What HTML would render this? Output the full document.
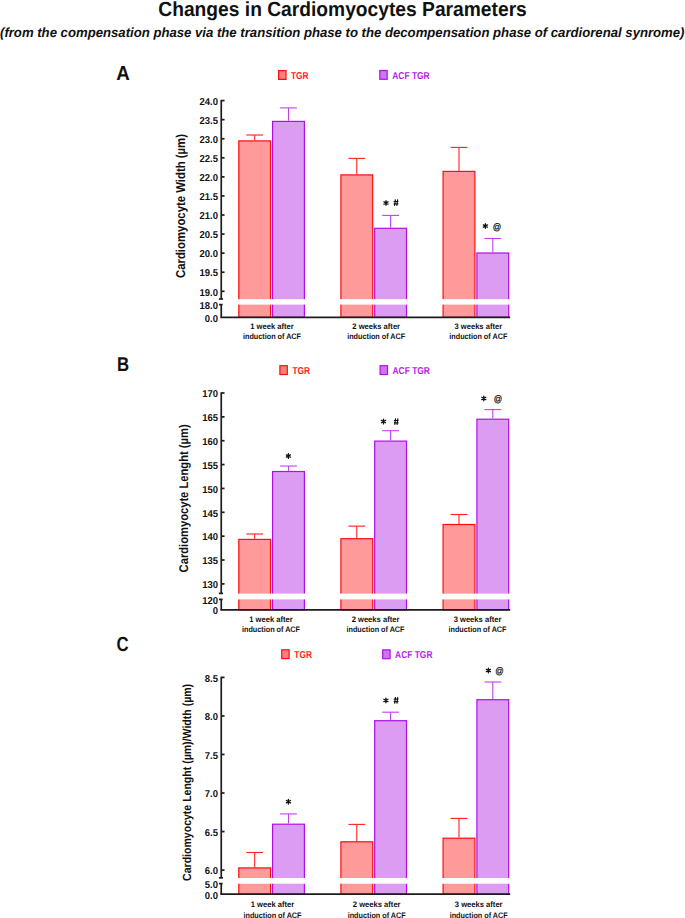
<!DOCTYPE html>
<html><head><meta charset="utf-8"><style>
html,body{margin:0;padding:0;background:#fff;}
body{width:685px;height:918px;overflow:hidden;}
svg{display:block;text-rendering:geometricPrecision;font-family:"Liberation Sans", sans-serif;}
</style></head><body>
<svg width="685" height="918" viewBox="0 0 685 918">
<rect x="0" y="0" width="685" height="918" fill="#fff"/>
<text x="158.3" y="15.6" font-size="20.5" font-weight="bold" font-style="normal" fill="#111" text-anchor="start" textLength="368.5" lengthAdjust="spacingAndGlyphs">Changes in Cardiomyocytes Parameters</text>
<text x="0.0" y="37.0" font-size="13.4" font-weight="bold" font-style="italic" fill="#111" text-anchor="start" textLength="684.5" lengthAdjust="spacingAndGlyphs">(from the compensation phase via the transition phase to the decompensation phase of cardiorenal synrome)</text>
<text transform="translate(116.3,79.6) scale(0.93,1)" x="0" y="0" font-size="20.2" font-weight="bold" font-style="normal" fill="#111" text-anchor="start">A</text>
<rect x="278.60" y="70.60" width="7.4" height="8.8" fill="#ff7f7f" stroke="#ff0d0d" stroke-width="1.2"/>
<rect x="379.80" y="70.50" width="7.4" height="8.8" fill="#cf74f2" stroke="#b010e6" stroke-width="1.2"/>
<text x="291.0" y="78.7" font-size="10.0" font-weight="bold" font-style="normal" fill="#ff1a1a" text-anchor="start" textLength="17.6" lengthAdjust="spacingAndGlyphs">TGR</text>
<text x="392.3" y="78.6" font-size="10.0" font-weight="bold" font-style="normal" fill="#b31ee6" text-anchor="start" textLength="37.4" lengthAdjust="spacingAndGlyphs">ACF TGR</text>
<rect x="238.80" y="140.90" width="31.80" height="176.40" fill="#ff9a9a" stroke="#ff0d0d" stroke-width="1.2"/>
<rect x="272.60" y="121.40" width="31.80" height="195.90" fill="#dc9cf2" stroke="#b010e6" stroke-width="1.2"/>
<line x1="254.7" y1="135.0" x2="254.7" y2="140.3" stroke="#ff2020" stroke-width="1.1"/>
<line x1="246.3" y1="135.0" x2="263.1" y2="135.0" stroke="#ff2020" stroke-width="1.1"/>
<line x1="288.5" y1="107.9" x2="288.5" y2="120.8" stroke="#c040ee" stroke-width="1.1"/>
<line x1="280.1" y1="107.9" x2="296.9" y2="107.9" stroke="#c040ee" stroke-width="1.1"/>
<rect x="340.90" y="174.90" width="31.80" height="142.40" fill="#ff9a9a" stroke="#ff0d0d" stroke-width="1.2"/>
<rect x="374.70" y="228.30" width="31.80" height="89.00" fill="#dc9cf2" stroke="#b010e6" stroke-width="1.2"/>
<line x1="356.8" y1="158.4" x2="356.8" y2="174.3" stroke="#ff2020" stroke-width="1.1"/>
<line x1="348.4" y1="158.4" x2="365.2" y2="158.4" stroke="#ff2020" stroke-width="1.1"/>
<line x1="390.6" y1="215.4" x2="390.6" y2="227.7" stroke="#c040ee" stroke-width="1.1"/>
<line x1="382.2" y1="215.4" x2="399.0" y2="215.4" stroke="#c040ee" stroke-width="1.1"/>
<rect x="443.10" y="171.40" width="31.80" height="145.90" fill="#ff9a9a" stroke="#ff0d0d" stroke-width="1.2"/>
<rect x="476.90" y="253.00" width="31.80" height="64.30" fill="#dc9cf2" stroke="#b010e6" stroke-width="1.2"/>
<line x1="459.0" y1="147.4" x2="459.0" y2="170.8" stroke="#ff2020" stroke-width="1.1"/>
<line x1="450.6" y1="147.4" x2="467.4" y2="147.4" stroke="#ff2020" stroke-width="1.1"/>
<line x1="492.8" y1="238.5" x2="492.8" y2="252.4" stroke="#c040ee" stroke-width="1.1"/>
<line x1="484.4" y1="238.5" x2="501.2" y2="238.5" stroke="#c040ee" stroke-width="1.1"/>
<rect x="224.25" y="299.2" width="287.75" height="5.40" fill="#fff"/>
<line x1="221.25" y1="99.89999999999999" x2="221.25" y2="299.0" stroke="#1c1c1c" stroke-width="1.7"/>
<line x1="218.85" y1="299.0" x2="223.05" y2="299.0" stroke="#1c1c1c" stroke-width="1.7"/>
<line x1="221.25" y1="304.6" x2="221.25" y2="317.3" stroke="#1c1c1c" stroke-width="1.7"/>
<line x1="219.05" y1="304.6" x2="222.65" y2="304.6" stroke="#1c1c1c" stroke-width="1.7"/>
<line x1="220.4" y1="317.3" x2="510.2" y2="317.3" stroke="#1c1c1c" stroke-width="1.7"/>
<line x1="221.25" y1="100.60" x2="224.55" y2="100.60" stroke="#1c1c1c" stroke-width="1.7"/>
<text transform="translate(218.0,104.80) scale(0.95,1)" x="0" y="0" font-size="10.0" font-weight="bold" font-style="normal" fill="#111" text-anchor="end">24.0</text>
<line x1="221.25" y1="119.67" x2="224.55" y2="119.67" stroke="#1c1c1c" stroke-width="1.7"/>
<text transform="translate(218.0,123.87) scale(0.95,1)" x="0" y="0" font-size="10.0" font-weight="bold" font-style="normal" fill="#111" text-anchor="end">23.5</text>
<line x1="221.25" y1="138.74" x2="224.55" y2="138.74" stroke="#1c1c1c" stroke-width="1.7"/>
<text transform="translate(218.0,142.94) scale(0.95,1)" x="0" y="0" font-size="10.0" font-weight="bold" font-style="normal" fill="#111" text-anchor="end">23.0</text>
<line x1="221.25" y1="157.81" x2="224.55" y2="157.81" stroke="#1c1c1c" stroke-width="1.7"/>
<text transform="translate(218.0,162.01) scale(0.95,1)" x="0" y="0" font-size="10.0" font-weight="bold" font-style="normal" fill="#111" text-anchor="end">22.5</text>
<line x1="221.25" y1="176.88" x2="224.55" y2="176.88" stroke="#1c1c1c" stroke-width="1.7"/>
<text transform="translate(218.0,181.08) scale(0.95,1)" x="0" y="0" font-size="10.0" font-weight="bold" font-style="normal" fill="#111" text-anchor="end">22.0</text>
<line x1="221.25" y1="195.95" x2="224.55" y2="195.95" stroke="#1c1c1c" stroke-width="1.7"/>
<text transform="translate(218.0,200.15) scale(0.95,1)" x="0" y="0" font-size="10.0" font-weight="bold" font-style="normal" fill="#111" text-anchor="end">21.5</text>
<line x1="221.25" y1="215.02" x2="224.55" y2="215.02" stroke="#1c1c1c" stroke-width="1.7"/>
<text transform="translate(218.0,219.22) scale(0.95,1)" x="0" y="0" font-size="10.0" font-weight="bold" font-style="normal" fill="#111" text-anchor="end">21.0</text>
<line x1="221.25" y1="234.09" x2="224.55" y2="234.09" stroke="#1c1c1c" stroke-width="1.7"/>
<text transform="translate(218.0,238.29) scale(0.95,1)" x="0" y="0" font-size="10.0" font-weight="bold" font-style="normal" fill="#111" text-anchor="end">20.5</text>
<line x1="221.25" y1="253.16" x2="224.55" y2="253.16" stroke="#1c1c1c" stroke-width="1.7"/>
<text transform="translate(218.0,257.36) scale(0.95,1)" x="0" y="0" font-size="10.0" font-weight="bold" font-style="normal" fill="#111" text-anchor="end">20.0</text>
<line x1="221.25" y1="272.23" x2="224.55" y2="272.23" stroke="#1c1c1c" stroke-width="1.7"/>
<text transform="translate(218.0,276.43) scale(0.95,1)" x="0" y="0" font-size="10.0" font-weight="bold" font-style="normal" fill="#111" text-anchor="end">19.5</text>
<line x1="221.25" y1="291.30" x2="224.55" y2="291.30" stroke="#1c1c1c" stroke-width="1.7"/>
<text transform="translate(218.0,295.50) scale(0.95,1)" x="0" y="0" font-size="10.0" font-weight="bold" font-style="normal" fill="#111" text-anchor="end">19.0</text>
<text transform="translate(218.0,308.80) scale(0.95,1)" x="0" y="0" font-size="10.0" font-weight="bold" font-style="normal" fill="#111" text-anchor="end">18.0</text>
<text transform="translate(218.0,321.50) scale(0.95,1)" x="0" y="0" font-size="10.0" font-weight="bold" font-style="normal" fill="#111" text-anchor="end">0.0</text>
<path d="M386.00,200.65L386.00,205.35M383.96,201.82L388.04,204.18M383.96,204.18L388.04,201.82" stroke="#111" stroke-width="1.3" stroke-linecap="round" fill="none"/>
<path d="M395.40,199.30L394.50,205.90M397.70,199.30L396.80,205.90M393.65,201.45L398.35,201.45M393.65,203.85L398.35,203.85" stroke="#111" stroke-width="1.15" fill="none"/>
<path d="M485.40,223.65L485.40,228.35M483.36,224.82L487.44,227.18M483.36,227.18L487.44,224.82" stroke="#111" stroke-width="1.3" stroke-linecap="round" fill="none"/>
<text transform="translate(496.90,229.60) scale(0.88,1)" x="0" y="0" font-size="9.5" font-weight="normal" font-style="normal" fill="#111" text-anchor="middle" stroke="#111" stroke-width="0.25">@</text>
<text transform="translate(185.0,278.0) rotate(-90)" x="0" y="0" font-size="12.9" font-weight="bold" fill="#111" textLength="144.0" lengthAdjust="spacingAndGlyphs">Cardiomyocyte Width (µm)</text>
<text transform="translate(272.0,328.8) scale(0.95,1)" x="0" y="0" font-size="8.0" font-weight="bold" font-style="normal" fill="#111" text-anchor="middle">1 week after</text>
<text transform="translate(272.0,338.7) scale(0.905,1)" x="0" y="0" font-size="8.0" font-weight="bold" font-style="normal" fill="#111" text-anchor="middle">induction of ACF</text>
<text transform="translate(376.2,328.8) scale(0.95,1)" x="0" y="0" font-size="8.0" font-weight="bold" font-style="normal" fill="#111" text-anchor="middle">2 weeks after</text>
<text transform="translate(376.2,338.7) scale(0.905,1)" x="0" y="0" font-size="8.0" font-weight="bold" font-style="normal" fill="#111" text-anchor="middle">induction of ACF</text>
<text transform="translate(478.3,328.8) scale(0.95,1)" x="0" y="0" font-size="8.0" font-weight="bold" font-style="normal" fill="#111" text-anchor="middle">3 weeks after</text>
<text transform="translate(478.3,338.7) scale(0.905,1)" x="0" y="0" font-size="8.0" font-weight="bold" font-style="normal" fill="#111" text-anchor="middle">induction of ACF</text>
<text transform="translate(117.0,371.0) scale(0.84,1)" x="0" y="0" font-size="20.0" font-weight="bold" font-style="normal" fill="#111" text-anchor="start">B</text>
<rect x="279.90" y="365.70" width="7.4" height="8.8" fill="#ff7f7f" stroke="#ff0d0d" stroke-width="1.2"/>
<rect x="380.10" y="365.70" width="7.4" height="8.8" fill="#cf74f2" stroke="#b010e6" stroke-width="1.2"/>
<text x="292.4" y="373.9" font-size="10.0" font-weight="bold" font-style="normal" fill="#ff1a1a" text-anchor="start" textLength="17.6" lengthAdjust="spacingAndGlyphs">TGR</text>
<text x="392.5" y="373.8" font-size="10.0" font-weight="bold" font-style="normal" fill="#b31ee6" text-anchor="start" textLength="37.4" lengthAdjust="spacingAndGlyphs">ACF TGR</text>
<rect x="238.80" y="539.40" width="31.80" height="70.50" fill="#ff9a9a" stroke="#ff0d0d" stroke-width="1.2"/>
<rect x="272.60" y="471.50" width="31.80" height="138.40" fill="#dc9cf2" stroke="#b010e6" stroke-width="1.2"/>
<line x1="254.7" y1="534.0" x2="254.7" y2="538.8" stroke="#ff2020" stroke-width="1.1"/>
<line x1="246.3" y1="534.0" x2="263.1" y2="534.0" stroke="#ff2020" stroke-width="1.1"/>
<line x1="288.5" y1="466.0" x2="288.5" y2="470.9" stroke="#c040ee" stroke-width="1.1"/>
<line x1="280.1" y1="466.0" x2="296.9" y2="466.0" stroke="#c040ee" stroke-width="1.1"/>
<rect x="340.90" y="538.70" width="31.80" height="71.20" fill="#ff9a9a" stroke="#ff0d0d" stroke-width="1.2"/>
<rect x="374.70" y="441.10" width="31.80" height="168.80" fill="#dc9cf2" stroke="#b010e6" stroke-width="1.2"/>
<line x1="356.8" y1="526.1" x2="356.8" y2="538.1" stroke="#ff2020" stroke-width="1.1"/>
<line x1="348.4" y1="526.1" x2="365.2" y2="526.1" stroke="#ff2020" stroke-width="1.1"/>
<line x1="390.6" y1="430.7" x2="390.6" y2="440.5" stroke="#c040ee" stroke-width="1.1"/>
<line x1="382.2" y1="430.7" x2="399.0" y2="430.7" stroke="#c040ee" stroke-width="1.1"/>
<rect x="443.10" y="524.50" width="31.80" height="85.40" fill="#ff9a9a" stroke="#ff0d0d" stroke-width="1.2"/>
<rect x="476.90" y="419.20" width="31.80" height="190.70" fill="#dc9cf2" stroke="#b010e6" stroke-width="1.2"/>
<line x1="459.0" y1="514.5" x2="459.0" y2="523.9" stroke="#ff2020" stroke-width="1.1"/>
<line x1="450.6" y1="514.5" x2="467.4" y2="514.5" stroke="#ff2020" stroke-width="1.1"/>
<line x1="492.8" y1="409.6" x2="492.8" y2="418.6" stroke="#c040ee" stroke-width="1.1"/>
<line x1="484.4" y1="409.6" x2="501.2" y2="409.6" stroke="#c040ee" stroke-width="1.1"/>
<rect x="224.25" y="593.6" width="287.75" height="5.80" fill="#fff"/>
<line x1="221.25" y1="392.3" x2="221.25" y2="593.4" stroke="#1c1c1c" stroke-width="1.7"/>
<line x1="218.85" y1="593.4" x2="223.05" y2="593.4" stroke="#1c1c1c" stroke-width="1.7"/>
<line x1="221.25" y1="599.4" x2="221.25" y2="609.9" stroke="#1c1c1c" stroke-width="1.7"/>
<line x1="219.05" y1="599.4" x2="222.65" y2="599.4" stroke="#1c1c1c" stroke-width="1.7"/>
<line x1="220.4" y1="609.9" x2="510.2" y2="609.9" stroke="#1c1c1c" stroke-width="1.7"/>
<line x1="221.25" y1="393.00" x2="224.55" y2="393.00" stroke="#1c1c1c" stroke-width="1.7"/>
<text transform="translate(218.0,397.20) scale(0.95,1)" x="0" y="0" font-size="10.0" font-weight="bold" font-style="normal" fill="#111" text-anchor="end">170</text>
<line x1="221.25" y1="416.86" x2="224.55" y2="416.86" stroke="#1c1c1c" stroke-width="1.7"/>
<text transform="translate(218.0,421.06) scale(0.95,1)" x="0" y="0" font-size="10.0" font-weight="bold" font-style="normal" fill="#111" text-anchor="end">165</text>
<line x1="221.25" y1="440.72" x2="224.55" y2="440.72" stroke="#1c1c1c" stroke-width="1.7"/>
<text transform="translate(218.0,444.92) scale(0.95,1)" x="0" y="0" font-size="10.0" font-weight="bold" font-style="normal" fill="#111" text-anchor="end">160</text>
<line x1="221.25" y1="464.58" x2="224.55" y2="464.58" stroke="#1c1c1c" stroke-width="1.7"/>
<text transform="translate(218.0,468.78) scale(0.95,1)" x="0" y="0" font-size="10.0" font-weight="bold" font-style="normal" fill="#111" text-anchor="end">155</text>
<line x1="221.25" y1="488.44" x2="224.55" y2="488.44" stroke="#1c1c1c" stroke-width="1.7"/>
<text transform="translate(218.0,492.64) scale(0.95,1)" x="0" y="0" font-size="10.0" font-weight="bold" font-style="normal" fill="#111" text-anchor="end">150</text>
<line x1="221.25" y1="512.30" x2="224.55" y2="512.30" stroke="#1c1c1c" stroke-width="1.7"/>
<text transform="translate(218.0,516.50) scale(0.95,1)" x="0" y="0" font-size="10.0" font-weight="bold" font-style="normal" fill="#111" text-anchor="end">145</text>
<line x1="221.25" y1="536.16" x2="224.55" y2="536.16" stroke="#1c1c1c" stroke-width="1.7"/>
<text transform="translate(218.0,540.36) scale(0.95,1)" x="0" y="0" font-size="10.0" font-weight="bold" font-style="normal" fill="#111" text-anchor="end">140</text>
<line x1="221.25" y1="560.02" x2="224.55" y2="560.02" stroke="#1c1c1c" stroke-width="1.7"/>
<text transform="translate(218.0,564.22) scale(0.95,1)" x="0" y="0" font-size="10.0" font-weight="bold" font-style="normal" fill="#111" text-anchor="end">135</text>
<line x1="221.25" y1="583.88" x2="224.55" y2="583.88" stroke="#1c1c1c" stroke-width="1.7"/>
<text transform="translate(218.0,588.08) scale(0.95,1)" x="0" y="0" font-size="10.0" font-weight="bold" font-style="normal" fill="#111" text-anchor="end">130</text>
<text transform="translate(218.0,603.80) scale(0.95,1)" x="0" y="0" font-size="10.0" font-weight="bold" font-style="normal" fill="#111" text-anchor="end">120</text>
<text transform="translate(218.0,614.40) scale(0.95,1)" x="0" y="0" font-size="10.0" font-weight="bold" font-style="normal" fill="#111" text-anchor="end">0</text>
<path d="M288.40,453.65L288.40,458.35M286.36,454.82L290.44,457.18M286.36,457.18L290.44,454.82" stroke="#111" stroke-width="1.3" stroke-linecap="round" fill="none"/>
<path d="M383.50,419.25L383.50,423.95M381.46,420.43L385.54,422.78M381.46,422.78L385.54,420.43" stroke="#111" stroke-width="1.3" stroke-linecap="round" fill="none"/>
<path d="M395.60,418.30L394.70,424.90M397.90,418.30L397.00,424.90M393.85,420.45L398.55,420.45M393.85,422.85L398.55,422.85" stroke="#111" stroke-width="1.15" fill="none"/>
<path d="M483.80,396.05L483.80,400.75M481.76,397.22L485.84,399.57M481.76,399.57L485.84,397.22" stroke="#111" stroke-width="1.3" stroke-linecap="round" fill="none"/>
<text transform="translate(497.90,402.20) scale(0.88,1)" x="0" y="0" font-size="9.5" font-weight="normal" font-style="normal" fill="#111" text-anchor="middle" stroke="#111" stroke-width="0.25">@</text>
<text transform="translate(187.6,572.4) rotate(-90)" x="0" y="0" font-size="12.6" font-weight="bold" fill="#111" textLength="148.0" lengthAdjust="spacingAndGlyphs">Cardiomyocyte Lenght (µm)</text>
<text transform="translate(271.0,621.9) scale(0.95,1)" x="0" y="0" font-size="8.0" font-weight="bold" font-style="normal" fill="#111" text-anchor="middle">1 week after</text>
<text transform="translate(271.0,632.0) scale(0.905,1)" x="0" y="0" font-size="8.0" font-weight="bold" font-style="normal" fill="#111" text-anchor="middle">induction of ACF</text>
<text transform="translate(375.5,621.9) scale(0.95,1)" x="0" y="0" font-size="8.0" font-weight="bold" font-style="normal" fill="#111" text-anchor="middle">2 weeks after</text>
<text transform="translate(375.5,632.0) scale(0.905,1)" x="0" y="0" font-size="8.0" font-weight="bold" font-style="normal" fill="#111" text-anchor="middle">induction of ACF</text>
<text transform="translate(477.5,621.9) scale(0.95,1)" x="0" y="0" font-size="8.0" font-weight="bold" font-style="normal" fill="#111" text-anchor="middle">3 weeks after</text>
<text transform="translate(477.5,632.0) scale(0.905,1)" x="0" y="0" font-size="8.0" font-weight="bold" font-style="normal" fill="#111" text-anchor="middle">induction of ACF</text>
<text transform="translate(116.5,651.3) scale(0.82,1)" x="0" y="0" font-size="20.4" font-weight="bold" font-style="normal" fill="#111" text-anchor="start">C</text>
<rect x="281.70" y="649.80" width="7.4" height="8.8" fill="#ff7f7f" stroke="#ff0d0d" stroke-width="1.2"/>
<rect x="382.70" y="649.90" width="7.4" height="8.8" fill="#cf74f2" stroke="#b010e6" stroke-width="1.2"/>
<text x="294.3" y="658.1" font-size="10.0" font-weight="bold" font-style="normal" fill="#ff1a1a" text-anchor="start" textLength="17.6" lengthAdjust="spacingAndGlyphs">TGR</text>
<text x="395.1" y="658.1" font-size="10.0" font-weight="bold" font-style="normal" fill="#b31ee6" text-anchor="start" textLength="37.4" lengthAdjust="spacingAndGlyphs">ACF TGR</text>
<rect x="238.80" y="867.90" width="31.80" height="26.30" fill="#ff9a9a" stroke="#ff0d0d" stroke-width="1.2"/>
<rect x="272.60" y="824.20" width="31.80" height="70.00" fill="#dc9cf2" stroke="#b010e6" stroke-width="1.2"/>
<line x1="254.7" y1="852.5" x2="254.7" y2="867.3" stroke="#ff2020" stroke-width="1.1"/>
<line x1="246.3" y1="852.5" x2="263.1" y2="852.5" stroke="#ff2020" stroke-width="1.1"/>
<line x1="288.5" y1="813.9" x2="288.5" y2="823.6" stroke="#c040ee" stroke-width="1.1"/>
<line x1="280.1" y1="813.9" x2="296.9" y2="813.9" stroke="#c040ee" stroke-width="1.1"/>
<rect x="340.90" y="841.80" width="31.80" height="52.40" fill="#ff9a9a" stroke="#ff0d0d" stroke-width="1.2"/>
<rect x="374.70" y="720.70" width="31.80" height="173.50" fill="#dc9cf2" stroke="#b010e6" stroke-width="1.2"/>
<line x1="356.8" y1="824.4" x2="356.8" y2="841.2" stroke="#ff2020" stroke-width="1.1"/>
<line x1="348.4" y1="824.4" x2="365.2" y2="824.4" stroke="#ff2020" stroke-width="1.1"/>
<line x1="390.6" y1="712.2" x2="390.6" y2="720.1" stroke="#c040ee" stroke-width="1.1"/>
<line x1="382.2" y1="712.2" x2="399.0" y2="712.2" stroke="#c040ee" stroke-width="1.1"/>
<rect x="443.10" y="838.20" width="31.80" height="56.00" fill="#ff9a9a" stroke="#ff0d0d" stroke-width="1.2"/>
<rect x="476.90" y="699.70" width="31.80" height="194.50" fill="#dc9cf2" stroke="#b010e6" stroke-width="1.2"/>
<line x1="459.0" y1="818.4" x2="459.0" y2="837.6" stroke="#ff2020" stroke-width="1.1"/>
<line x1="450.6" y1="818.4" x2="467.4" y2="818.4" stroke="#ff2020" stroke-width="1.1"/>
<line x1="492.8" y1="682.0" x2="492.8" y2="699.1" stroke="#c040ee" stroke-width="1.1"/>
<line x1="484.4" y1="682.0" x2="501.2" y2="682.0" stroke="#c040ee" stroke-width="1.1"/>
<rect x="224.25" y="878.0" width="287.75" height="5.70" fill="#fff"/>
<line x1="221.25" y1="676.6999999999999" x2="221.25" y2="877.8" stroke="#1c1c1c" stroke-width="1.7"/>
<line x1="218.85" y1="877.8" x2="223.05" y2="877.8" stroke="#1c1c1c" stroke-width="1.7"/>
<line x1="221.25" y1="883.6" x2="221.25" y2="894.2" stroke="#1c1c1c" stroke-width="1.7"/>
<line x1="219.05" y1="883.6" x2="222.65" y2="883.6" stroke="#1c1c1c" stroke-width="1.7"/>
<line x1="220.4" y1="894.2" x2="510.2" y2="894.2" stroke="#1c1c1c" stroke-width="1.7"/>
<line x1="221.25" y1="677.40" x2="224.55" y2="677.40" stroke="#1c1c1c" stroke-width="1.7"/>
<text transform="translate(218.0,681.60) scale(0.95,1)" x="0" y="0" font-size="10.0" font-weight="bold" font-style="normal" fill="#111" text-anchor="end">8.5</text>
<line x1="221.25" y1="715.94" x2="224.55" y2="715.94" stroke="#1c1c1c" stroke-width="1.7"/>
<text transform="translate(218.0,720.14) scale(0.95,1)" x="0" y="0" font-size="10.0" font-weight="bold" font-style="normal" fill="#111" text-anchor="end">8.0</text>
<line x1="221.25" y1="754.48" x2="224.55" y2="754.48" stroke="#1c1c1c" stroke-width="1.7"/>
<text transform="translate(218.0,758.68) scale(0.95,1)" x="0" y="0" font-size="10.0" font-weight="bold" font-style="normal" fill="#111" text-anchor="end">7.5</text>
<line x1="221.25" y1="793.02" x2="224.55" y2="793.02" stroke="#1c1c1c" stroke-width="1.7"/>
<text transform="translate(218.0,797.22) scale(0.95,1)" x="0" y="0" font-size="10.0" font-weight="bold" font-style="normal" fill="#111" text-anchor="end">7.0</text>
<line x1="221.25" y1="831.56" x2="224.55" y2="831.56" stroke="#1c1c1c" stroke-width="1.7"/>
<text transform="translate(218.0,835.76) scale(0.95,1)" x="0" y="0" font-size="10.0" font-weight="bold" font-style="normal" fill="#111" text-anchor="end">6.5</text>
<line x1="221.25" y1="870.10" x2="224.55" y2="870.10" stroke="#1c1c1c" stroke-width="1.7"/>
<text transform="translate(218.0,874.30) scale(0.95,1)" x="0" y="0" font-size="10.0" font-weight="bold" font-style="normal" fill="#111" text-anchor="end">6.0</text>
<text transform="translate(218.0,888.00) scale(0.95,1)" x="0" y="0" font-size="10.0" font-weight="bold" font-style="normal" fill="#111" text-anchor="end">5.0</text>
<text transform="translate(218.0,898.80) scale(0.95,1)" x="0" y="0" font-size="10.0" font-weight="bold" font-style="normal" fill="#111" text-anchor="end">0.0</text>
<path d="M288.40,799.35L288.40,804.05M286.36,800.53L290.44,802.88M286.36,802.88L290.44,800.53" stroke="#111" stroke-width="1.3" stroke-linecap="round" fill="none"/>
<path d="M385.90,698.05L385.90,702.75M383.86,699.23L387.94,701.57M383.86,701.57L387.94,699.23" stroke="#111" stroke-width="1.3" stroke-linecap="round" fill="none"/>
<path d="M395.50,697.00L394.60,703.60M397.80,697.00L396.90,703.60M393.75,699.15L398.45,699.15M393.75,701.55L398.45,701.55" stroke="#111" stroke-width="1.15" fill="none"/>
<path d="M488.40,668.15L488.40,672.85M486.36,669.33L490.44,671.67M486.36,671.67L490.44,669.33" stroke="#111" stroke-width="1.3" stroke-linecap="round" fill="none"/>
<text transform="translate(499.50,674.40) scale(0.88,1)" x="0" y="0" font-size="9.5" font-weight="normal" font-style="normal" fill="#111" text-anchor="middle" stroke="#111" stroke-width="0.25">@</text>
<text transform="translate(191.0,880.9) rotate(-90)" x="0" y="0" font-size="11.9" font-weight="bold" fill="#111" textLength="197.0" lengthAdjust="spacingAndGlyphs">Cardiomyocyte Lenght (µm)/Width (µm)</text>
<text transform="translate(272.5,907.0) scale(0.95,1)" x="0" y="0" font-size="8.0" font-weight="bold" font-style="normal" fill="#111" text-anchor="middle">1 week after</text>
<text transform="translate(272.5,918.0) scale(0.905,1)" x="0" y="0" font-size="8.0" font-weight="bold" font-style="normal" fill="#111" text-anchor="middle">induction of ACF</text>
<text transform="translate(376.7,907.0) scale(0.95,1)" x="0" y="0" font-size="8.0" font-weight="bold" font-style="normal" fill="#111" text-anchor="middle">2 weeks after</text>
<text transform="translate(376.7,918.0) scale(0.905,1)" x="0" y="0" font-size="8.0" font-weight="bold" font-style="normal" fill="#111" text-anchor="middle">induction of ACF</text>
<text transform="translate(478.7,907.0) scale(0.95,1)" x="0" y="0" font-size="8.0" font-weight="bold" font-style="normal" fill="#111" text-anchor="middle">3 weeks after</text>
<text transform="translate(478.7,918.0) scale(0.905,1)" x="0" y="0" font-size="8.0" font-weight="bold" font-style="normal" fill="#111" text-anchor="middle">induction of ACF</text>
</svg>
</body></html>
